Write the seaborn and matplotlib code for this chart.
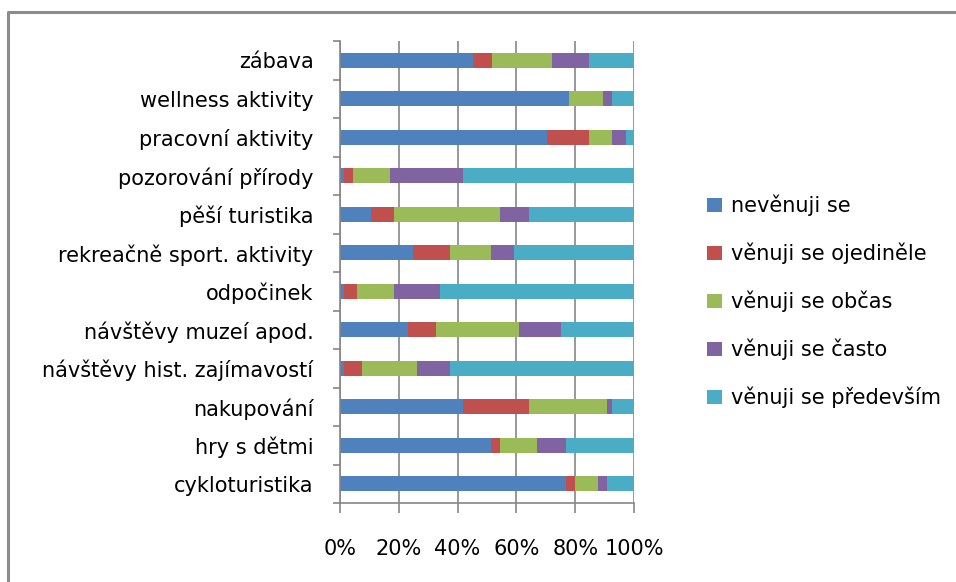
import numpy as np
import matplotlib
matplotlib.use("Agg")
import matplotlib.pyplot as plt
from matplotlib.lines import Line2D
from matplotlib.patches import Patch
import seaborn as sns

# Activities (top to bottom)
categories = [
    "zábava",
    "wellness aktivity",
    "pracovní aktivity",
    "pozorování přírody",
    "pěší turistika",
    "rekreačně sport. aktivity",
    "odpočinek",
    "návštěvy muzeí apod.",
    "návštěvy hist. zajímavostí",
    "nakupování",
    "hry s dětmi",
    "cykloturistika",
]

series_names = [
    "nevěnuji se",
    "věnuji se ojediněle",
    "věnuji se občas",
    "věnuji se často",
    "věnuji se především",
]

# Shares in percent for each answer
nevenuji = [45.4, 78.0, 70.3, 1.2, 10.5, 24.8, 1.2, 23.0, 1.2, 41.8, 51.5, 76.8]
ojedinele = [6.2, 0.0, 14.4, 3.2, 7.9, 12.7, 4.5, 9.7, 6.2, 22.4, 3.0, 3.1]
obcas = [20.4, 11.5, 7.8, 12.6, 36.1, 14.0, 12.7, 28.3, 18.8, 26.5, 12.6, 7.7]
casto = [12.7, 3.0, 4.8, 24.8, 9.7, 7.8, 15.6, 14.1, 11.2, 1.7, 9.7, 3.1]
predevsim = [15.3, 7.5, 2.7, 58.2, 35.8, 40.7, 66.0, 24.9, 62.6, 7.6, 23.2, 9.3]

colors = ["#4F81BD", "#C0504D", "#9BBB59", "#8064A2", "#4BACC6"]
x_ticks = [0, 20, 40, 60, 80, 100]
x_tick_labels = ["0%", "20%", "40%", "60%", "80%", "100%"]

sns.set_theme(style="white")
plt.rcParams["font.family"] = ["DejaVu Sans"]
plt.rcParams["text.color"] = "#000000"
plt.rcParams["xtick.labelcolor"] = "#000000"
plt.rcParams["ytick.labelcolor"] = "#000000"

W, H = 956, 582
fig = plt.figure(figsize=(W / 100, H / 100), dpi=100)
fig.patch.set_facecolor("white")

ax = fig.add_axes([340 / W, 1 - 503 / H, 294 / W, 462 / H])
ax.set_facecolor("white")

# Stacked bars: draw cumulative totals from the widest layer down
series = [nevenuji, ojedinele, obcas, casto, predevsim]
cum = np.cumsum(np.array(series, dtype=float), axis=0)
for i in reversed(range(len(series))):
    sns.barplot(
        x=cum[i], y=categories, color=colors[i], orient="h",
        width=0.4, saturation=1, edgecolor="none", linewidth=0, ax=ax,
    )

ax.set_xlim(0, 100)
ax.set_ylim(len(categories) - 0.5, -0.5)
ax.set_xlabel("")
ax.set_ylabel("")

grey = "#868686"
ax.set_axisbelow(True)
ax.xaxis.grid(True, color=grey, linewidth=1.2)
ax.yaxis.grid(False)

for side in ("top", "right"):
    ax.spines[side].set_visible(False)
for side in ("left", "bottom"):
    ax.spines[side].set_color(grey)
    ax.spines[side].set_linewidth(1.2)

ax.set_xticks(x_ticks)
ax.set_xticklabels(x_tick_labels)
ax.tick_params(axis="x", which="major", direction="out", length=7, width=1.2,
               color=grey, pad=19, labelsize=15, labelcolor="black", bottom=True)

ax.set_yticks(np.arange(-0.5, len(categories), 1), minor=True)
ax.tick_params(axis="y", which="minor", direction="out", length=5, width=1.2,
               color=grey, left=True)
ax.tick_params(axis="y", which="major", length=0, pad=19, labelsize=15,
               labelcolor="black")

handles = [Patch(facecolor=c, edgecolor="none") for c in colors]
fig.legend(
    handles, series_names, loc="upper left",
    bbox_to_anchor=(707 / W, 1 - 195 / H), bbox_transform=fig.transFigure,
    frameon=False, fontsize=15, handlelength=0.7, handleheight=0.7,
    handletextpad=0.45, labelspacing=1.27, borderpad=0, borderaxespad=0,
    labelcolor="black",
)

# Outer chart border
fig.add_artist(Line2D([8 / W, 8 / W, 1.0], [0.0, 1 - 12 / H, 1 - 12 / H],
                      transform=fig.transFigure, color="#8c8c8c", linewidth=2.2))

fig.savefig("out.png", dpi=100)
